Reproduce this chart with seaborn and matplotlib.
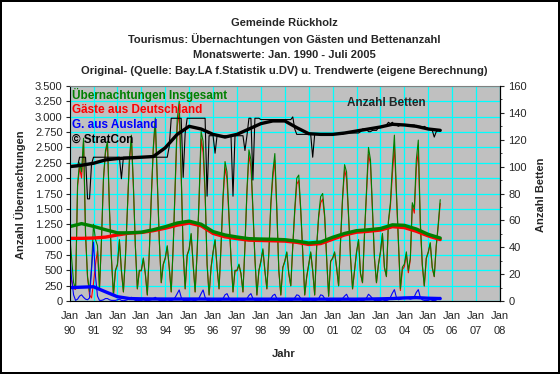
import matplotlib
matplotlib.use("Agg")
import matplotlib.pyplot as plt
from matplotlib.ticker import FixedLocator, MultipleLocator, FuncFormatter
import seaborn as sns
import pandas as pd

# Monatswerte Jan 1990 - Jul 2005
insgesamt = [
    1100, 700, 300, 200, 1900, 2250, 2100, 2650, 1100, 400, 150, 550,     # 1990
    1250, 1000, 900, 200, 1000, 2000, 2450, 2600, 1500, 700, 100, 500,    # 1991
    600, 1000, 500, 150, 700, 1500, 2300, 2700, 1900, 900, 200, 500,      # 1992
    500, 700, 450, 100, 800, 1700, 2500, 2980, 2000, 1000, 300, 600,      # 1993
    700, 900, 550, 150, 900, 1900, 2950, 3250, 2100, 800, 200, 750,       # 1994
    850, 1100, 600, 150, 800, 1700, 2760, 2600, 1800, 600, 100, 550,      # 1995
    800, 1000, 550, 200, 900, 1700, 2270, 2100, 1400, 700, 150, 500,      # 1996
    500, 600, 450, 150, 900, 1800, 2460, 2300, 1500, 700, 100, 500,       # 1997
    650, 850, 500, 200, 800, 1600, 2100, 2400, 1500, 500, 100, 550,       # 1998
    650, 800, 450, 250, 900, 1500, 2000, 2050, 1500, 800, 100, 400,       # 1999
    600, 800, 500, 100, 900, 1400, 1700, 1750, 1400, 700, 80, 650,        # 2000
    700, 800, 550, 250, 1000, 1700, 2220, 2100, 1400, 700, 200, 500,      # 2001
    800, 1000, 450, 300, 1100, 1800, 2500, 2300, 1500, 700, 300, 600,     # 2002
    800, 1100, 550, 400, 1300, 1600, 2200, 2700, 1800, 1000, 200, 550,    # 2003
    600, 800, 500, 700, 1600, 1500, 2300, 2620, 1300, 600, 250, 700,      # 2004
    800, 950, 550, 400, 900, 1250, 1650,                                  # 2005
]
ausland = [
    800, 360, 100, 10, 30, 80, 100, 60, 30, 20, 50, 500,
    960, 400, 80, 10, 10, 20, 40, 40, 20, 10, 10, 10,
    20, 30, 10, 5, 10, 20, 40, 60, 30, 10, 5, 10,
    10, 20, 10, 5, 10, 20, 40, 60, 30, 10, 5, 10,
    10, 20, 10, 5, 20, 60, 120, 180, 60, 10, 5, 10,
    10, 20, 10, 5, 20, 50, 120, 180, 60, 10, 5, 10,
    10, 20, 10, 5, 15, 40, 100, 120, 50, 10, 5, 10,
    10, 20, 10, 5, 15, 40, 90, 120, 40, 10, 5, 10,
    10, 20, 10, 5, 15, 40, 90, 110, 40, 10, 5, 10,
    10, 15, 10, 5, 15, 50, 100, 90, 40, 10, 5, 10,
    10, 20, 10, 5, 15, 40, 100, 90, 40, 10, 5, 10,
    10, 20, 10, 5, 15, 40, 80, 110, 40, 10, 5, 10,
    10, 20, 10, 5, 15, 50, 110, 80, 40, 10, 5, 10,
    10, 20, 10, 5, 20, 60, 130, 185, 60, 20, 30, 40,
    40, 40, 40, 30, 40, 70, 140, 185, 60, 20, 10, 10,
    10, 20, 10, 5, 15, 40, 60,
]
betten = [
    100, 100, 100, 100, 100, 107, 107, 107, 107, 76, 76, 102,
    107, 107, 107, 107, 107, 107, 107, 107, 107, 107, 107, 107,
    107, 107, 91, 107, 107, 107, 107, 107, 107, 107, 107, 107,
    107, 107, 107, 107, 107, 107, 107, 107, 107, 107, 107, 107,
    107, 107, 115, 136, 136, 136, 136, 136, 136, 92, 125, 136,
    136, 136, 136, 136, 136, 136, 136, 136, 136, 78, 123, 123,
    123, 110, 123, 123, 123, 123, 123, 123, 123, 123, 78, 123,
    123, 123, 123, 123, 112, 123, 136, 136, 90, 136, 136, 136,
    135, 135, 135, 135, 135, 135, 135, 135, 135, 135, 135, 135,
    135, 135, 135, 135, 137, 128, 124, 124, 124, 124, 124, 124,
    124, 124, 107, 124, 124, 124, 124, 124, 124, 124, 124, 124,
    124, 124, 124, 124, 124, 124, 125, 125, 125, 125, 125, 125,
    125, 125, 126, 128, 128, 128, 126, 126, 127, 127, 127, 129,
    129, 130, 130, 131, 133, 132, 133, 131, 131, 130, 131, 131,
    131, 131, 130, 131, 131, 131, 130, 130, 130, 129, 130, 129,
    128, 128, 127, 122, 126, 127, 127,
]

# Trendwerte (Halbjahrespunkte Jan/Jul)
trend_insg = [1210, 1260, 1215, 1160, 1110, 1110, 1120, 1160, 1210, 1270, 1300, 1250,
              1130, 1075, 1042, 1015, 1009, 1005, 998, 975, 944, 960, 1037, 1100,
              1145, 1160, 1180, 1240, 1232, 1172, 1085, 1025]
trend_deu = [1020, 1020, 1025, 1040, 1075, 1105, 1115, 1145, 1185, 1235, 1270, 1225,
             1100, 1045, 1015, 990, 985, 980, 975, 955, 920, 935, 1005, 1075,
             1120, 1135, 1155, 1210, 1195, 1135, 1060, 1000]
trend_ausl = [217, 225, 232, 150, 70, 40, 35, 33, 32, 32, 32, 32, 30, 30, 30, 30,
              30, 30, 30, 30, 30, 30, 30, 30, 30, 32, 35, 40, 50, 55, 45, 40]
trend_betten = [100, 101, 102.5, 105, 106, 106.5, 107, 107.5, 114, 124, 130, 128,
                124, 122, 124, 128, 132, 134, 134, 129, 124.5, 124, 124, 125,
                126.5, 128, 129.5, 131.5, 131, 130, 128, 127]

jahre = list(range(1990, 2009))

monate = pd.date_range("1990-01-01", "2005-07-01", freq="MS")
df = pd.DataFrame({"t": monate.year + (monate.month - 1) / 12,
                   "insg": insgesamt, "ausl": ausland, "betten": betten})
df["deu"] = df["insg"] - df["ausl"]

halbjahre = pd.date_range("1990-01-01", "2005-07-01", freq="6MS")
tr = pd.DataFrame({"t": halbjahre.year + (halbjahre.month - 1) / 12,
                   "insg": trend_insg, "deu": trend_deu,
                   "ausl": trend_ausl, "betten": trend_betten})

sns.set_style("white")
plt.rcParams["font.family"] = ["Liberation Sans", "DejaVu Sans"]
plt.rcParams["font.size"] = 8

W, H = 560, 374
fig = plt.figure(figsize=(5.6, 3.74), dpi=100)
fig.patch.set_facecolor("white")
fig.patch.set_edgecolor("black")
fig.patch.set_linewidth(1.5)

x0, x1, ytop, ybot = 69.6, 500, 86, 301
ax = fig.add_axes([x0 / W, (H - ybot) / H, (x1 - x0) / W, (ybot - ytop) / H])
ax.set_facecolor("#C0C0C0")

GREEN, RED, BLUE = "#008000", "#FF0000", "#0000FF"
thin, thick = 0.8, 2.4

sns.lineplot(data=df, x="t", y="deu", color=RED, lw=thin, ax=ax)
sns.lineplot(data=df, x="t", y="insg", color=GREEN, lw=thin, ax=ax)
sns.lineplot(data=df, x="t", y="ausl", color=BLUE, lw=thin, ax=ax)
sns.lineplot(data=tr, x="t", y="deu", color=RED, lw=thick, ax=ax)
sns.lineplot(data=tr, x="t", y="insg", color=GREEN, lw=thick, ax=ax)
sns.lineplot(data=tr, x="t", y="ausl", color=BLUE, lw=thick, ax=ax)

ax.set_xlim(1990, 2008)
ax.set_ylim(0, 3500)
ax.xaxis.set_major_locator(FixedLocator(jahre))
ax.set_xticklabels([f"Jan\n{j % 100:02d}" for j in jahre], linespacing=1.7)
ax.xaxis.set_minor_locator(MultipleLocator(1 / 12))
ax.yaxis.set_major_locator(MultipleLocator(250))
ax.yaxis.set_major_formatter(FuncFormatter(lambda v, p: f"{int(v):,}".replace(",", ".")))
ax.grid(True, color="#00FFFF", lw=0.9)
ax.set_axisbelow(True)
ax.tick_params(axis="x", which="major", length=3, width=0.8, pad=4, labelsize=8)
ax.tick_params(axis="x", which="minor", length=1.5, width=0.6)
ax.tick_params(axis="y", length=3, width=0.8, pad=2, labelsize=8)
ax.set_xlabel("")
ax.set_ylabel("")
for s in ax.spines.values():
    s.set_color("black")
    s.set_linewidth(0.8)
ax.spines["top"].set_color("#808080")

ax2 = ax.twinx()
sns.lineplot(data=df, x="t", y="betten", color="black", lw=thin, ax=ax2)
sns.lineplot(data=tr, x="t", y="betten", color="black", lw=thick, ax=ax2)
ax2.set_ylim(0, 160)
ax2.set_xlim(1990, 2008)
ax2.yaxis.set_major_locator(MultipleLocator(20))
ax2.yaxis.set_minor_locator(MultipleLocator(10))
ax2.tick_params(axis="y", which="major", length=3, width=0.8, pad=3, labelsize=8)
ax2.tick_params(axis="y", which="minor", length=1.5, width=0.6)
ax2.set_ylabel("")
for s in ax2.spines.values():
    s.set_visible(False)
ax2.spines["right"].set_visible(True)
ax2.spines["right"].set_color("black")
ax2.spines["right"].set_linewidth(0.8)

def px(x, y):
    return x / W, 1 - y / H

titel = ["Gemeinde Rückholz",
         "Tourismus: Übernachtungen von Gästen und Bettenanzahl",
         "Monatswerte: Jan. 1990 - Juli 2005",
         "Original- (Quelle: Bay.LA f.Statistik u.DV) u. Trendwerte (eigene Berechnung)"]
for i, t in enumerate(titel):
    fig.text(*px(284, 23 + 16 * i), t, ha="center", va="center",
             fontsize=8, fontweight="bold")

legende = [("Übernachtungen Insgesamt", GREEN), ("Gäste aus Deutschland", RED),
           ("G. aus Ausland", BLUE), ("© StratCon", "black")]
for i, (t, c) in enumerate(legende):
    fig.text(*px(72, 95 + 14.8 * i), t, ha="left", va="center",
             fontsize=8.5, fontweight="bold", color=c)
fig.text(*px(347, 103), "Anzahl Betten", ha="left", va="center",
         fontsize=8.5, fontweight="bold")

fig.text(*px(20, 195), "Anzahl Übernachtungen", rotation=90, ha="center",
         va="center", fontsize=8, fontweight="bold")
fig.text(*px(541, 195), "Anzahl Betten", rotation=90, ha="center",
         va="center", fontsize=8, fontweight="bold")
fig.text(*px(284, 354), "Jahr", ha="center", va="center",
         fontsize=8, fontweight="bold")

fig.savefig("out.png", dpi=100)
